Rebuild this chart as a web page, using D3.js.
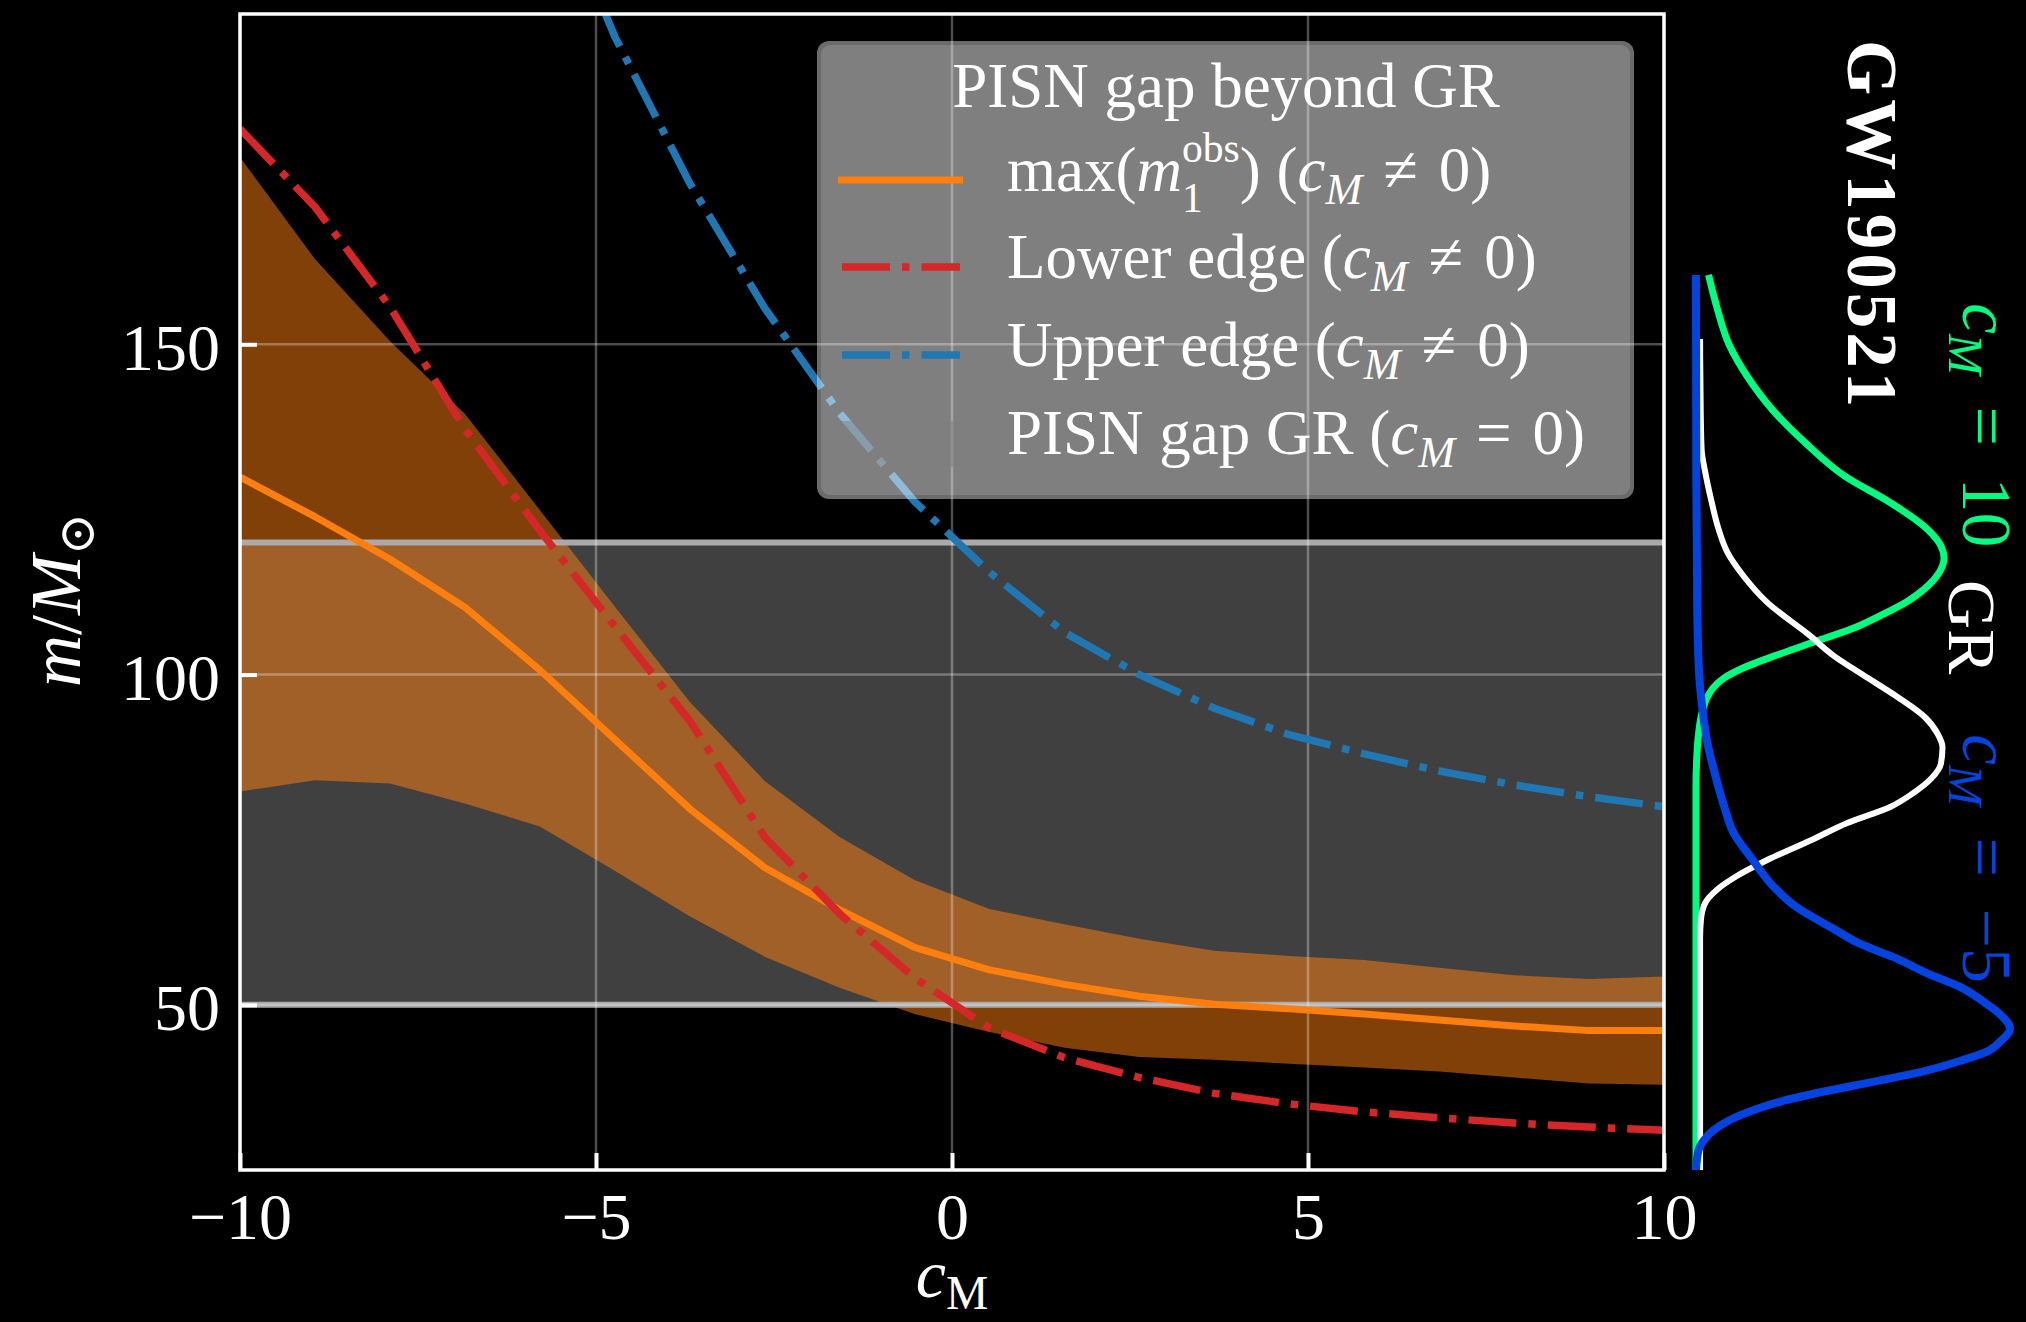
<!DOCTYPE html>
<html>
<head>
<meta charset="utf-8">
<script src="https://cdn.jsdelivr.net/npm/d3@7"></script>
<style>
  html, body { margin: 0; padding: 0; background: #000; }
  svg { display: block; }
  text { font-family: "Liberation Serif", "DejaVu Serif", "Times New Roman", serif; white-space: pre; }
</style>
</head>
<body>
<svg id="chart" width="2026" height="1322"></svg>
<script>
// ---- data -------------------------------------------------------------
// modified-gravity parameter c_M (20 evenly spaced samples on [-10, 10])
const cM = [-10, -8.947, -7.895, -6.842, -5.789, -4.737, -3.684, -2.632, -1.579, -0.526,
            0.526, 1.579, 2.632, 3.684, 4.737, 5.789, 6.842, 7.895, 8.947, 10];

// max observed primary mass and its uncertainty band (M_sun)
const maxM1Obs  = [129.9, 123.9, 117.5, 110.2, 100.7, 90.2, 79.7, 70.8, 64.4, 58.7,
                   55.3, 53.1, 51.3, 50.1, 49.4, 48.6, 47.7, 46.8, 46.1, 46.1];
const bandUpper = [178.3, 162.9, 150.5, 139.5, 124.9, 110.3, 95.9, 83.9, 75.4, 68.9,
                   64.5, 62.2, 60.0, 58.2, 57.4, 56.8, 55.6, 54.5, 53.9, 54.3];
const bandLower = [82.3, 84.0, 83.5, 80.5, 77.0, 70.3, 63.4, 57.3, 52.6, 48.6,
                   45.9, 43.5, 42.1, 41.7, 41.1, 40.5, 39.9, 39.0, 38.1, 37.9];

// PISN gap edges for c_M != 0 (upper edge is off the chart for c_M < -5)
const lowerEdge = [182.6, 170.8, 155.7, 137.2, 121.8, 107.3, 93.0, 75.4, 63.8, 54.1,
                   46.5, 42.0, 39.0, 36.6, 35.0, 33.8, 32.9, 32.1, 31.5, 31.0];
const upperEdge = [null, null, null, null, 224.0, 196.6, 174.4, 155.5, 139.6, 126.2,
                   115.5, 106.4, 100.0, 94.9, 90.9, 88.0, 85.4, 83.3, 81.5, 80.0];

// GR PISN gap [lower, upper]
const grGap = [50, 120];

// axis ticks
const xTicks = [-10, -5, 0, 5, 10];
const yTicks = [50, 100, 150];

// GW190521 primary-mass densities [mass, relative density]
const kdeCm10 = [[160.5, 0.04], [155, 0.07], [150, 0.105], [145, 0.165], [140, 0.245], [135, 0.35],
  [130, 0.475], [126, 0.62], [122, 0.737], [119.5, 0.78], [117.6, 0.79], [115.5, 0.775],
  [113.5, 0.74], [111, 0.67], [109, 0.59], [107, 0.5], [105, 0.38], [103, 0.26], [101, 0.15],
  [99.5, 0.09], [98, 0.055], [96.5, 0.035], [94, 0.018], [91, 0.008], [87, 0.002], [83, 0.0], [25, 0.0]];
const kdeGR = [[150.8, 0.013], [140, 0.015], [134, 0.018], [130.5, 0.03], [126.5, 0.048], [122, 0.072],
  [118.5, 0.1], [115, 0.15], [111, 0.225], [106, 0.36], [102.8, 0.44], [100, 0.53], [96.5, 0.645],
  [93.5, 0.73], [91, 0.77], [89, 0.785], [86.5, 0.78], [84.3, 0.75], [82, 0.69], [80, 0.62],
  [77.5, 0.48], [75, 0.37], [72, 0.23], [69.5, 0.13], [67.4, 0.066], [65.5, 0.03], [63, 0.016],
  [60, 0.013], [25, 0.013]];
const kdeCmMinus5 = [[160.5, 0.0], [130, 0.001], [110, 0.004], [100, 0.01], [95, 0.02], [90, 0.035],
  [85, 0.06], [80, 0.09], [76, 0.12], [72, 0.18], [68, 0.245], [64.8, 0.32], [61.6, 0.435],
  [59.3, 0.52], [57, 0.64], [54.8, 0.735], [52.5, 0.85], [50.5, 0.915], [48.5, 0.97], [46.4, 1.0],
  [44.5, 0.97], [43, 0.93], [41.5, 0.84], [40, 0.73], [38.5, 0.58], [37, 0.42], [35.5, 0.28],
  [34, 0.18], [32.5, 0.105], [31, 0.055], [29.5, 0.025], [28, 0.008], [25, 0.0]];

// ---- setup ------------------------------------------------------------
const svg = d3.select("#chart");
svg.append("rect").attr("width", 2026).attr("height", 1322).attr("fill", "#000");

const x = d3.scaleLinear().domain([-10, 10]).range([240, 1664]);
const y = d3.scaleLinear().domain([25, 200]).range([1170, 14]);
const xd = d3.scaleLinear().domain([0, 1]).range([1696, 2010]);

const rows = cM.map((c, i) => ({
  c, lo: bandLower[i], hi: bandUpper[i], mx: maxM1Obs[i], le: lowerEdge[i], ue: upperEdge[i]
}));

svg.append("defs").append("clipPath").attr("id", "plotClip").append("rect")
  .attr("x", x(-10)).attr("y", y(200))
  .attr("width", x(10) - x(-10)).attr("height", y(25) - y(200));

const plot = svg.append("g").attr("clip-path", "url(#plotClip)");

// GR gap band
plot.append("rect")
  .attr("x", x(-10)).attr("width", x(10) - x(-10))
  .attr("y", y(grGap[1])).attr("height", y(grGap[0]) - y(grGap[1]))
  .attr("fill", "#808080").attr("fill-opacity", 0.5);

// uncertainty band of max(m1_obs)
plot.append("path").datum(rows)
  .attr("d", d3.area().x(d => x(d.c)).y0(d => y(d.lo)).y1(d => y(d.hi)))
  .attr("fill", "#ff7f0e").attr("fill-opacity", 0.5);

// edges of the GR gap
grGap.forEach(v => {
  plot.append("line")
    .attr("x1", x(-10)).attr("x2", x(10)).attr("y1", y(v)).attr("y2", y(v))
    .attr("stroke", "#aaaaaa").attr("stroke-width", 6);
});

// grid
const grid = plot.append("g").attr("stroke", "#fff").attr("stroke-opacity", 0.3).attr("stroke-width", 2.5);
xTicks.forEach(t => grid.append("line").attr("x1", x(t)).attr("x2", x(t)).attr("y1", y(25)).attr("y2", y(200)));
yTicks.forEach(t => grid.append("line").attr("x1", x(-10)).attr("x2", x(10)).attr("y1", y(t)).attr("y2", y(t)));

// curves
const lineOf = key => d3.line().defined(d => d[key] != null).x(d => x(d.c)).y(d => y(d[key]));
const dashDot = "48,12,7.5,12";
plot.append("path").datum(rows).attr("d", lineOf("mx"))
  .attr("fill", "none").attr("stroke", "#ff7f0e").attr("stroke-width", 7).attr("stroke-linejoin", "round");
plot.append("path").datum(rows).attr("d", lineOf("le"))
  .attr("fill", "none").attr("stroke", "#d62728").attr("stroke-width", 7.5).attr("stroke-dasharray", dashDot);
plot.append("path").datum(rows).attr("d", lineOf("ue"))
  .attr("fill", "none").attr("stroke", "#1f77b4").attr("stroke-width", 7.5).attr("stroke-dasharray", dashDot);

// ---- rich text helper (italics, sub/superscripts) ------------------------
function rich(parent, pieces, opt) {
  const g = parent.append("g");
  const size = opt.size;
  let cx = 0, held = null;
  for (const p of pieces) {
    const k = p.k || 1;
    const t = g.append("text")
      .attr("x", cx).attr("y", (p.dy || 0) * size)
      .attr("font-size", size * k)
      .attr("font-style", p.it ? "italic" : "normal")
      .attr("font-weight", opt.bold ? "bold" : "normal")
      .attr("letter-spacing", opt.spacing || null)
      .style("fill", opt.fill || "#fff")
      .text(p.s);
    const w = t.node().getComputedTextLength();
    if (p.hold) { held = w; continue; }
    cx += Math.max(w, held || 0);
    held = null;
  }
  const shift = opt.anchor === "middle" ? -cx / 2 : opt.anchor === "end" ? -cx : 0;
  g.selectAll("text").attr("x", function () { return +this.getAttribute("x") + shift; });
  g.attr("transform", opt.transform);
  return g;
}
const NB = "\u00A0";
const SP = NB + "\u200A";       // space around relation signs in the legend
const SPW = NB + "\u2009";      // slightly wider space for the side labels
const cSub = [{ s: "c", it: true }, { s: "M", it: true, k: 0.7, dy: 0.2 }];
const neq0 = { s: SP + "\u2260" + SP + "0)" };
const eq0 = { s: SP + "=" + SP + "0)" };

// ---- legend -------------------------------------------------------------
const leg = svg.append("g");
leg.append("rect").attr("x", 817).attr("y", 41).attr("width", 817).attr("height", 458).attr("rx", 12)
  .attr("fill", "#fff").attr("fill-opacity", 0.42);
leg.append("rect").attr("x", 821).attr("y", 45).attr("width", 809).attr("height", 450).attr("rx", 9)
  .attr("fill", "#fff").attr("fill-opacity", 0.14);

rich(leg, [{ s: "PISN gap beyond GR" }], { size: 63, anchor: "middle", transform: "translate(1226,107)" });

const legRows = [
  { yy: 180, kind: "solid", color: "#ff7f0e",
    label: [{ s: "max(" }, { s: "m", it: true }, { s: "1", k: 0.66, dy: 0.34, hold: true }, { s: "obs", k: 0.66, dy: -0.46 },
            { s: ")" + NB + "(" }, ...cSub, neq0] },
  { yy: 267, kind: "dash", color: "#d62728", label: [{ s: "Lower edge (" }, ...cSub, neq0] },
  { yy: 355, kind: "dash", color: "#1f77b4", label: [{ s: "Upper edge (" }, ...cSub, neq0] },
  { yy: 443, kind: "patch", color: "#808080", label: [{ s: "PISN gap GR (" }, ...cSub, eq0] }
];
legRows.forEach(r => {
  if (r.kind === "patch") {
    leg.append("rect").attr("x", 838).attr("y", r.yy - 22).attr("width", 125).attr("height", 46)
      .attr("fill", r.color).attr("fill-opacity", 0.5);
  } else {
    leg.append("line").attr("x1", r.kind === "solid" ? 838 : 842).attr("x2", r.kind === "solid" ? 963 : 960)
      .attr("y1", r.yy).attr("y2", r.yy)
      .attr("stroke", r.color).attr("stroke-width", r.kind === "solid" ? 7 : 7.5)
      .attr("stroke-dasharray", r.kind === "dash" ? dashDot : null);
  }
  rich(leg, r.label, { size: 63, transform: `translate(1007,${r.yy + 11})` });
});

// ---- frame and axes -----------------------------------------------------
svg.append("rect").attr("x", x(-10)).attr("y", y(200))
  .attr("width", x(10) - x(-10)).attr("height", y(25) - y(200))
  .attr("fill", "none").attr("stroke", "#fff").attr("stroke-width", 3.5);

const xAxis = svg.append("g").attr("transform", `translate(0,${y(25)})`)
  .call(d3.axisBottom(x).tickValues(xTicks).tickSize(-17).tickPadding(22));
const yAxis = svg.append("g").attr("transform", `translate(${x(-10)},0)`)
  .call(d3.axisLeft(y).tickValues(yTicks).tickSize(-17).tickPadding(20));
[xAxis, yAxis].forEach(a => {
  a.select(".domain").remove();
  a.attr("font-size", 66).style("color", "#fff");
  a.selectAll(".tick line").attr("stroke-width", 4);
  a.selectAll(".tick text").style("fill", "#fff");
});
yAxis.selectAll(".tick text").attr("dy", "0.38em");

// axis labels
rich(svg, [{ s: "c", it: true }, { s: "M", k: 0.7, dy: 0.17 }],
  { size: 68, anchor: "middle", transform: "translate(952,1297)" });
rich(svg, [{ s: "m", it: true }, { s: "/" }, { s: "M", it: true }, { s: "\u2299", k: 0.7, dy: 0.2 }],
  { size: 72, anchor: "middle", transform: "translate(80,600) rotate(-90)" });

// ---- GW190521 mass densities (side panel) -------------------------------
const kdeLine = d3.line().x(d => xd(d[1])).y(d => y(d[0])).curve(d3.curveMonotoneY);
const side = svg.append("g").attr("fill", "none").attr("stroke-linejoin", "round");
side.append("path").datum(kdeCm10).attr("d", kdeLine).attr("stroke", "#00ff7f").attr("stroke-width", 7);
side.append("path").datum(kdeGR).attr("d", kdeLine).attr("stroke", "#ffffff").attr("stroke-width", 6);
side.append("path").datum(kdeCmMinus5).attr("d", kdeLine).attr("stroke", "#0343df").attr("stroke-width", 8);

rich(svg, [{ s: "GW190521" }], { size: 71, bold: true, spacing: 4, transform: "translate(1848,40) rotate(90)" });
rich(svg, [...cSub, { s: SPW + "=" + SPW + "10" }], { size: 70, fill: "#00ff7f", transform: "translate(1963,303) rotate(90)" });
rich(svg, [{ s: "GR" }], { size: 68, fill: "#ffffff", transform: "translate(1949,580) rotate(90)" });
rich(svg, [...cSub, { s: SPW + "=" + SPW + "\u22125" }], { size: 70, fill: "#0343df", transform: "translate(1963,734) rotate(90)" });
</script>
</body>
</html>
